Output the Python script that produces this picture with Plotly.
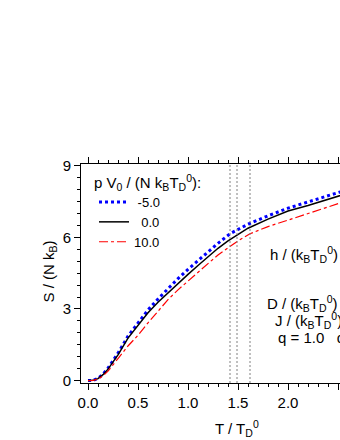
import plotly.graph_objects as go

# reduced temperature T / T_D^0
t_low = [0.0, 0.05, 0.1, 0.15, 0.2, 0.25, 0.3, 0.4, 0.5, 0.6, 0.7, 0.8, 0.9, 1.0, 1.1, 1.2, 1.3]

# entropy S / (N k_B) for three pressures
t_m5 = t_low + [1.42, 1.6, 1.8, 2.0, 2.2, 2.4, 2.6]
s_m5 = [0.0, 0.01, 0.09, 0.27, 0.52, 0.83, 1.15, 1.86, 2.42, 2.96, 3.42, 3.85, 4.27, 4.66, 5.03, 5.4, 5.75,
        6.15, 6.55, 6.9, 7.22, 7.48, 7.74, 8.0]

t_0 = t_low + [1.4, 1.49, 1.6, 1.8, 2.0, 2.2, 2.4, 2.6]
s_0 = [0.0, 0.01, 0.08, 0.25, 0.48, 0.78, 1.08, 1.78, 2.3, 2.84, 3.28, 3.68, 4.07, 4.45, 4.82, 5.18, 5.54,
       5.85, 6.1, 6.38, 6.76, 7.1, 7.33, 7.57, 7.85]

t_10 = t_low + [1.4, 1.5, 1.62, 1.8, 2.0, 2.2, 2.4, 2.6]
s_10 = [0.0, 0.01, 0.06, 0.2, 0.4, 0.65, 0.92, 1.45, 1.9, 2.42, 2.92, 3.39, 3.8, 4.18, 4.55, 4.9, 5.26,
        5.55, 5.85, 6.15, 6.45, 6.72, 6.98, 7.27, 7.55]

# transition temperatures marked by dotted lines
t_c = [1.42, 1.49, 1.62]

FONT = "Liberation Sans, Arial, sans-serif"
NB = "\u00a0"

fig = go.Figure()
fig.add_trace(go.Scatter(x=t_m5, y=s_m5, mode="lines", name=NB + "-5.0", legendrank=1,
                         line=dict(color="#0000ff", width=3, dash="dot")))
fig.add_trace(go.Scatter(x=t_0, y=s_0, mode="lines", name=NB * 2 + "0.0", legendrank=2,
                         line=dict(color="black", width=1.5)))
fig.add_trace(go.Scatter(x=t_10, y=s_10, mode="lines", name="10.0", legendrank=3,
                         line=dict(color="#ff0000", width=1.2, dash="dashdot")))

for tc in t_c:
    fig.add_shape(type="line", xref="x", yref="paper", x0=tc, x1=tc, y0=0, y1=1,
                  line=dict(color="#808080", width=1, dash="2px,2px"))


# page pixels -> paper coords
def px_x(p):
    return (p - 81) / 259


def px_y(p):
    return (383 - p) / 219


labels = [
    ("h / (k<sub>B</sub>T<sub>D</sub><sup>0</sup>)", 268, 254),
    ("D / (k<sub>B</sub>T<sub>D</sub><sup>0</sup>) =", 265, 303),
    ("J / (k<sub>B</sub>T<sub>D</sub><sup>0</sup>)", 273, 320),
    ("q = 1.0   α", 276, 337),
    ("p V<sub>0</sub> / (N k<sub>B</sub>T<sub>D</sub><sup>0</sup>):", 92, 182),
]
for txt, x, y in labels:
    fig.add_annotation(text=txt, x=px_x(x), y=px_y(y), xref="paper", yref="paper",
                       xanchor="left", yanchor="middle", showarrow=False,
                       font=dict(size=15, color="black"))

fig.add_annotation(text="T / T<sub>D</sub><sup>0</sup>", x=px_x(237), y=px_y(428),
                   xref="paper", yref="paper", showarrow=False, yanchor="middle",
                   font=dict(size=15, color="black"))
fig.add_annotation(text="S / (N k<sub>B</sub>)", x=px_x(37), y=px_y(272),
                   xref="paper", yref="paper", showarrow=False, textangle=-90,
                   font=dict(size=15, color="black"))

fig.update_layout(
    width=340, height=440,
    margin=dict(l=81, r=0, t=164, b=57, autoexpand=False),
    paper_bgcolor="white", plot_bgcolor="white",
    font=dict(family=FONT, size=15, color="black"),
    legend=dict(
        x=px_x(94), y=px_y(187), xanchor="left", yanchor="top",
        bgcolor="rgba(0,0,0,0)", font=dict(size=13), tracegroupgap=0,
    ),
    xaxis=dict(
        range=[-0.07, 2.52], dtick=0.5, tick0=0, tickformat=".1f", automargin=False,
        showgrid=False, zeroline=False, showline=True, linecolor="black", linewidth=1,
        mirror="ticks", ticks="outside", ticklen=6, tickcolor="black",
        minor=dict(dtick=0.1, tick0=0, ticks="outside", ticklen=3, tickcolor="black"),
    ),
    yaxis=dict(
        range=[-0.1, 9.07], dtick=3, tick0=0, automargin=False,
        showgrid=False, zeroline=False, showline=True, linecolor="black", linewidth=1,
        ticks="outside", ticklen=6, tickcolor="black",
        minor=dict(dtick=0.5, tick0=0, ticks="outside", ticklen=3, tickcolor="black"),
    ),
)

# drop the default page margin so the figure sits at the window's corner
fig.write_html("out.html", config={"displayModeBar": False},
               post_script="document.body.style.margin='0';document.body.style.overflow='hidden';")
